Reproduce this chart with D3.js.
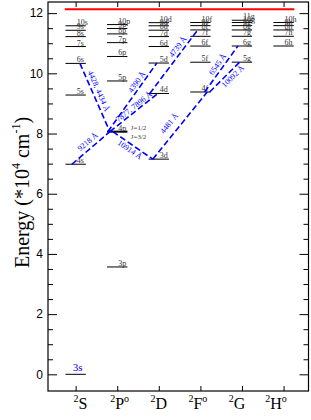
<!DOCTYPE html>
<html>
<head>
<meta charset="utf-8">
<script src="https://cdn.jsdelivr.net/npm/d3@7"></script>
<style>
    body { margin: 0; background: #fff; }
    svg { display: block; font-family: 'Liberation Serif', 'Times New Roman', serif; }
</style>
</head>
<body>
<div id="chart"></div>
<script>
// Term symbols along the x axis
const terms = ['S', 'P', 'D', 'F', 'G', 'H'];
const parity = ['', 'o', '', 'o', '', 'o'];

// Level energies, 10^4 cm^-1, one list per series
const sNames = ['3s', '4s', '5s', '6s', '7s', '8s', '9s', '10s'];
const sEnergy = [0, 6.980, 9.279, 10.33, 10.89, 11.22, 11.43, 11.58];
const pNames = ['3p', '4p', '5p', '6p', '7p', '8p', '9p', '10p'];
const pEnergy = [3.567, 8.062, 9.746, 10.56, 11.02, 11.31, 11.49, 11.62];
const dNames = ['3d', '4d', '5d', '6d', '7d', '8d', '9d', '10d'];
const dEnergy = [7.149, 9.331, 10.342, 10.891, 11.221, 11.434, 11.580, 11.684];
const fNames = ['4f', '5f', '6f', '7f', '8f', '9f', '10f'];
const fEnergy = [9.380, 10.369, 10.906, 11.230, 11.441, 11.585, 11.688];
const gNames = ['5g', '6g', '7g', '8g', '9g', '10g', '11g'];
const gEnergy = [10.371, 10.908, 11.231, 11.441, 11.585, 11.688, 11.764];
const hNames = ['6h', '7h', '8h', '9h', '10h'];
const hEnergy = [10.908, 11.231, 11.441, 11.585, 11.688];
const ionLimit = 12.127;

// Transitions: start/end (term index, energy) and wavelength label
const transLabel = ['4428, 4434 Å', '9218 Å', '4390 Å', '7877, 7896 Å', '10914 Å',
                    '4739 Å', '4481 Å', '6545 Å', '10092 Å'];
const transX1 = [1.103, 0.911, 1.775, 1.823, 1.895, 2.783, 2.855, 4.103, 4.223];
const transE1 = [10.33, 6.980, 8.062, 8.062, 8.062, 9.331, 7.149, 9.380, 9.380];
const transX2 = [1.823, 1.823, 2.951, 2.975, 2.855, 3.935, 4.165, 4.902, 4.943];
const transE2 = [8.062, 8.062, 10.342, 9.331, 7.149, 11.441, 9.380, 10.908, 10.371];

const yTicks = [0, 2, 4, 6, 8, 10, 12];
const yMinor = [0.5, 1, 1.5, 2.5, 3, 3.5, 4.5, 5, 5.5, 6.5, 7, 7.5, 8.5, 9, 9.5, 10.5, 11, 11.5];

// label placement along each transition: fraction and side offset
const labT = [0.44, 0.53, 0.68, 0.56, 0.50, 0.68, 0.44, 0.53, 0.65];
const labOff = [6.4, 7, 5.5, 4.8, -5, 6, 10, 6, -5];

const W = 311, H = 420;
const margin = { top: 2, right: 2.5, bottom: 29, left: 48 };
const svg = d3.select('#chart').append('svg').attr('width', W).attr('height', H);

const x = d3.scaleLinear().domain([0.335, 6.6]).range([margin.left, W - margin.right]);
const y = d3.scaleLinear().domain([-0.554, 12.37]).range([H - margin.bottom, margin.top]);
const halfW = 0.245;

const columns = [
    [sNames, sEnergy], [pNames, pEnergy], [dNames, dEnergy],
    [fNames, fEnergy], [gNames, gEnergy], [hNames, hEnergy]
];
const levels = [];
columns.forEach(([names, energy], c) => {
    names.forEach((n, i) => levels.push({ col: c + 1, name: n, e: energy[i] }));
});

// axes
const axisStyle = g => {
    g.select('.domain').remove();
    g.selectAll('line').attr('stroke', '#000');
};
svg.append('g')
    .attr('transform', `translate(${margin.left},0)`)
    .call(d3.axisLeft(y).tickValues(yTicks).tickSize(-9).tickPadding(5))
    .call(axisStyle)
    .call(g => g.selectAll('text').attr('font-size', 12).attr('font-family', null).attr('fill', '#000'));
svg.append('g')
    .attr('transform', `translate(${margin.left},0)`)
    .call(d3.axisLeft(y).tickValues(yMinor).tickSize(-5).tickFormat(''))
    .call(axisStyle);
svg.append('g')
    .attr('transform', `translate(${W - margin.right},0)`)
    .call(d3.axisRight(y).tickValues(yTicks).tickSize(-9).tickFormat(''))
    .call(axisStyle);
svg.append('g')
    .attr('transform', `translate(${W - margin.right},0)`)
    .call(d3.axisRight(y).tickValues(yMinor).tickSize(-5).tickFormat(''))
    .call(axisStyle);
svg.append('g')
    .attr('transform', `translate(0,${H - margin.bottom})`)
    .call(d3.axisBottom(x).tickValues(d3.range(1, 7)).tickSize(-5).tickFormat(''))
    .call(axisStyle);
svg.append('g')
    .attr('transform', `translate(0,${margin.top})`)
    .call(d3.axisTop(x).tickValues(d3.range(1, 7)).tickSize(-5).tickFormat(''))
    .call(axisStyle);

svg.append('rect')
    .attr('x', margin.left).attr('y', margin.top)
    .attr('width', W - margin.left - margin.right)
    .attr('height', H - margin.top - margin.bottom)
    .attr('fill', 'none').attr('stroke', '#000').attr('stroke-width', 1.2);

// term labels
const xl = d3.scaleBand().domain(terms).range([61, 295.6]);
const termText = svg.append('g').selectAll('text')
    .data(terms)
    .enter().append('text')
    .attr('x', d => xl(d) + xl.bandwidth() / 2)
    .attr('y', 409)
    .attr('text-anchor', 'middle')
    .attr('font-size', 16);
termText.append('tspan').attr('font-size', 10).attr('dy', -7).text('2');
termText.append('tspan').attr('dy', 7).text(d => d);
termText.append('tspan').attr('font-size', 10).attr('dy', -7)
    .text((d, i) => parity[i]);

// y title
svg.append('text')
    .attr('transform', `translate(28.5,${192.5}) rotate(-90)`)
    .attr('text-anchor', 'middle')
    .attr('font-size', 20)
    .call(t => {
        t.append('tspan').text('Energy (*10');
        t.append('tspan').attr('font-size', 12).attr('dy', -9).text('4');
        t.append('tspan').attr('dy', 9).text(' cm');
        t.append('tspan').attr('font-size', 12).attr('dy', -9).text('-1');
        t.append('tspan').attr('dy', 9).text(')');
    });

// ionization limit
svg.append('line')
    .attr('x1', x(1 - 0.26)).attr('x2', x(6 + 0.26))
    .attr('y1', y(ionLimit)).attr('y2', y(ionLimit))
    .attr('stroke', '#ff0000').attr('stroke-width', 2);

// levels
svg.append('g').selectAll('line')
    .data(levels)
    .enter().append('line')
    .attr('x1', d => x(d.col - halfW)).attr('x2', d => x(d.col + halfW))
    .attr('y1', d => y(d.e)).attr('y2', d => y(d.e))
    .attr('stroke', '#000')
    .attr('stroke-width', d => d.name === '4p' ? 2 : 1);

svg.append('g').selectAll('text')
    .data(levels)
    .enter().append('text')
    .attr('x', d => d.name === '3s' ? x(d.col) - 3 : x(d.col) + 1)
    .attr('y', d => y(d.e) - (d.name === '3s' ? 3 : 1))
    .attr('font-size', d => d.name === '3s' ? 11 : 8)
    .attr('fill', d => d.name === '3s' ? '#0000ff' : '#333')
    .text(d => d.name);

// fine structure note for 4p
const p4 = pEnergy[1];
svg.append('text').attr('x', x(2) + 13.5).attr('y', y(p4) - 2)
    .attr('font-size', 7).attr('fill', '#444').text('J=1/2');
svg.append('text').attr('x', x(2) + 13.5).attr('y', y(p4) + 7)
    .attr('font-size', 7).attr('fill', '#444').text('J=3/2');

// transitions
const trans = transLabel.map((lab, i) => ({
    lab, x1: x(transX1[i]), y1: y(transE1[i]), x2: x(transX2[i]), y2: y(transE2[i]),
    t: labT[i], off: labOff[i]
}));
svg.append('g').selectAll('line')
    .data(trans)
    .enter().append('line')
    .attr('x1', d => d.x1).attr('y1', d => d.y1)
    .attr('x2', d => d.x2).attr('y2', d => d.y2)
    .attr('stroke', '#0000ff').attr('stroke-width', 1.6)
    .attr('stroke-dasharray', '6,3');

svg.append('g').selectAll('text')
    .data(trans)
    .enter().append('text')
    .attr('transform', d => {
        const ang = Math.atan2(d.y2 - d.y1, d.x2 - d.x1);
        const px = d.x1 + (d.x2 - d.x1) * d.t + d.off * Math.sin(ang);
        const py = d.y1 + (d.y2 - d.y1) * d.t - d.off * Math.cos(ang);
        return `translate(${px},${py}) rotate(${ang * 180 / Math.PI})`;
    })
    .attr('text-anchor', 'middle')
    .attr('dy', '0.35em')
    .attr('font-size', 8)
    .attr('fill', '#0000ff')
    .text(d => d.lab);
</script>
</body>
</html>
